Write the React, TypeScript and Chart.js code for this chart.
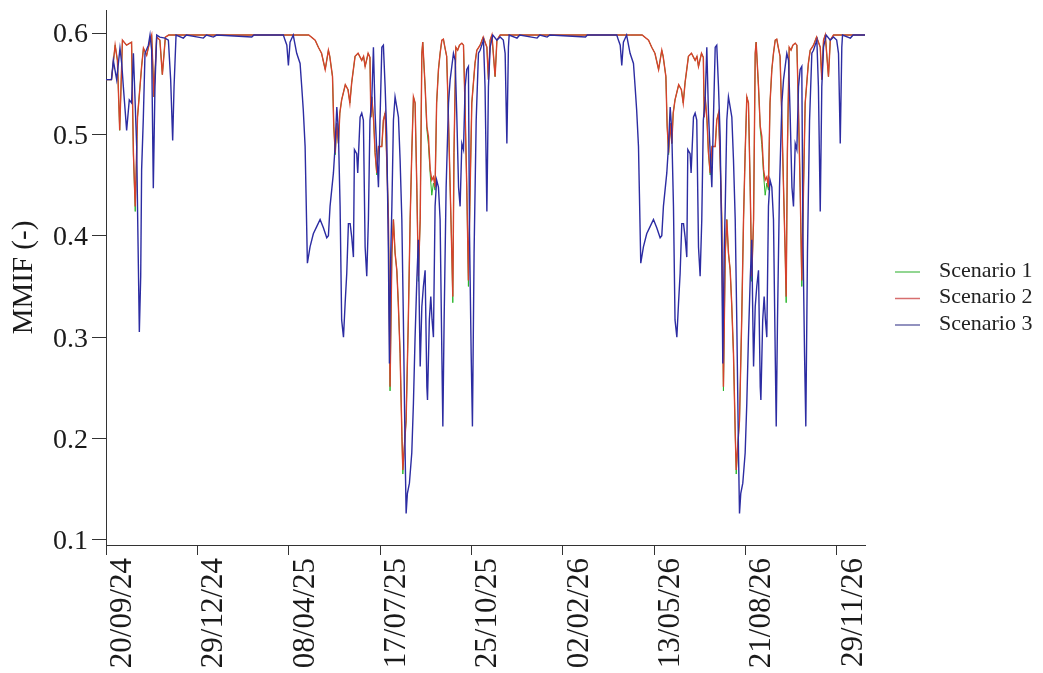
import React, { useEffect, useRef } from 'react';
import { Chart, registerables } from 'chart.js';

Chart.register(...registerables);

// ---- axis ticks -------------------------------------------------------
// x values are days since 20/09/24
const tickDays = [0, 100, 200, 300, 400, 500, 600, 700, 800];
const tickLabels = ['20/09/24', '29/12/24', '08/04/25', '17/07/25', '25/10/25', '02/02/26', '13/05/26', '21/08/26', '29/11/26'];
const yTicks = [0.1, 0.2, 0.3, 0.4, 0.5, 0.6];
const seriesNames = ['Scenario 1', 'Scenario 2', 'Scenario 3'];

// ---- Scenario 2 (red) -------------------------------------------------
const redDays2024 = [0, 6, 10, 12.5, 15, 18, 22.5, 28, 30, 32, 34.5, 39, 41, 44.5, 48, 50, 52.5, 55.5, 59, 61.7, 65, 68.6];
const redVals2024 = [0.554, 0.554, 0.588, 0.573, 0.504, 0.593, 0.588, 0.591, 0.482, 0.429, 0.517, 0.567, 0.585, 0.578, 0.592, 0.598, 0.537, 0.596, 0.593, 0.559, 0.596, 0.598];
const redDays2025 = [209, 222, 229, 232.5, 236, 240, 243.5, 245, 248, 249.4, 251, 252.6, 254.5, 256, 258, 262, 265, 267, 269, 272.7, 276, 280, 282, 283.7, 287, 289, 290, 291, 293, 294.6, 296.5, 298.4, 302, 303.7, 305.6, 307.4, 309.2, 311, 313, 314.7, 316.5, 318.4, 320, 322, 324, 325, 326.4, 328.6, 331, 333, 334.8, 336.6, 338.4, 340.3, 342, 344, 345.8, 346.8, 349.4, 351.3, 353, 355, 356.7, 358.5, 360.3, 362, 364, 365.8, 367.7, 369.4, 371, 373, 375, 376.8, 378.6, 379.7, 381, 383, 385, 387, 389.6, 391.4, 393, 395, 396.8, 398.7, 400.5, 404, 406, 409.6, 413, 417, 418.7, 420.6, 422.5, 426, 428, 431.5];
const redVals2025 = [0.598, 0.598, 0.593, 0.586, 0.580, 0.564, 0.583, 0.577, 0.557, 0.508, 0.482, 0.511, 0.491, 0.521, 0.534, 0.549, 0.544, 0.531, 0.551, 0.577, 0.580, 0.573, 0.577, 0.567, 0.580, 0.576, 0.517, 0.537, 0.514, 0.482, 0.462, 0.488, 0.488, 0.514, 0.521, 0.475, 0.416, 0.251, 0.383, 0.416, 0.383, 0.366, 0.334, 0.284, 0.202, 0.169, 0.189, 0.218, 0.317, 0.416, 0.482, 0.537, 0.531, 0.448, 0.360, 0.416, 0.580, 0.591, 0.547, 0.508, 0.498, 0.465, 0.455, 0.458, 0.448, 0.531, 0.564, 0.580, 0.593, 0.594, 0.586, 0.577, 0.514, 0.448, 0.383, 0.340, 0.482, 0.586, 0.583, 0.588, 0.590, 0.588, 0.531, 0.448, 0.356, 0.448, 0.531, 0.570, 0.583, 0.588, 0.596, 0.586, 0.554, 0.593, 0.598, 0.557, 0.593, 0.598];
const redDays2026 = [574, 587, 594, 597.5, 601, 605, 608.5, 610, 613, 614.4, 616, 617.6, 619.5, 621, 623, 627, 630, 632, 634, 637.7, 641, 645, 647, 648.7, 652, 654, 655, 656, 658, 659.6, 661.5, 663.4, 667, 668.7, 670.6, 672.4, 674.2, 676, 678, 679.7, 681.5, 683.4, 685, 687, 689, 690, 691.4, 693.6, 696, 698, 699.8, 701.6, 703.4, 705.3, 707, 709, 710.8, 711.8, 714.4, 716.3, 718, 720, 721.7, 723.5, 725.3, 727, 729, 730.8, 732.7, 734.4, 736, 738, 740, 741.8, 743.6, 744.7, 746, 748, 750, 752, 754.6, 756.4, 758, 760, 761.8, 763.7, 765.5, 769, 771, 774.6, 778, 782, 783.7, 785.6, 787.5, 791, 793, 796.5, 831];
const redVals2026 = [0.598, 0.598, 0.593, 0.586, 0.580, 0.564, 0.583, 0.577, 0.557, 0.508, 0.482, 0.511, 0.491, 0.521, 0.534, 0.549, 0.544, 0.531, 0.551, 0.577, 0.580, 0.573, 0.577, 0.567, 0.580, 0.576, 0.517, 0.537, 0.514, 0.482, 0.462, 0.488, 0.488, 0.514, 0.521, 0.475, 0.416, 0.251, 0.383, 0.416, 0.383, 0.366, 0.334, 0.284, 0.202, 0.169, 0.189, 0.218, 0.317, 0.416, 0.482, 0.537, 0.531, 0.448, 0.360, 0.416, 0.580, 0.591, 0.547, 0.508, 0.498, 0.465, 0.455, 0.458, 0.448, 0.531, 0.564, 0.580, 0.593, 0.594, 0.586, 0.577, 0.514, 0.448, 0.383, 0.340, 0.482, 0.586, 0.583, 0.588, 0.590, 0.588, 0.531, 0.448, 0.356, 0.448, 0.531, 0.570, 0.583, 0.588, 0.596, 0.586, 0.554, 0.593, 0.598, 0.557, 0.593, 0.598, 0.598];

// ---- Scenario 1 (green, almost identical to Scenario 2) ---------------
const greenVals2024 = [0.554, 0.554, 0.588, 0.573, 0.504, 0.593, 0.588, 0.591, 0.480, 0.424, 0.517, 0.567, 0.585, 0.578, 0.592, 0.598, 0.537, 0.596, 0.593, 0.559, 0.596, 0.598];
const greenVals2025 = [0.598, 0.598, 0.593, 0.586, 0.580, 0.564, 0.583, 0.577, 0.557, 0.508, 0.480, 0.511, 0.491, 0.521, 0.534, 0.549, 0.544, 0.531, 0.551, 0.577, 0.580, 0.573, 0.577, 0.567, 0.580, 0.576, 0.517, 0.537, 0.514, 0.482, 0.460, 0.488, 0.488, 0.514, 0.521, 0.475, 0.416, 0.247, 0.383, 0.416, 0.383, 0.366, 0.334, 0.284, 0.202, 0.165, 0.189, 0.218, 0.317, 0.416, 0.482, 0.537, 0.531, 0.448, 0.355, 0.416, 0.580, 0.591, 0.547, 0.505, 0.490, 0.460, 0.440, 0.452, 0.445, 0.531, 0.564, 0.580, 0.593, 0.594, 0.586, 0.577, 0.514, 0.448, 0.383, 0.334, 0.482, 0.586, 0.583, 0.588, 0.590, 0.588, 0.531, 0.448, 0.350, 0.448, 0.531, 0.570, 0.583, 0.588, 0.596, 0.586, 0.554, 0.593, 0.598, 0.557, 0.593, 0.598];
const greenVals2026 = [0.598, 0.598, 0.593, 0.586, 0.580, 0.564, 0.583, 0.577, 0.557, 0.508, 0.480, 0.511, 0.491, 0.521, 0.534, 0.549, 0.544, 0.531, 0.551, 0.577, 0.580, 0.573, 0.577, 0.567, 0.580, 0.576, 0.517, 0.537, 0.514, 0.482, 0.460, 0.488, 0.488, 0.514, 0.521, 0.475, 0.416, 0.247, 0.383, 0.416, 0.383, 0.366, 0.334, 0.284, 0.202, 0.165, 0.189, 0.218, 0.317, 0.416, 0.482, 0.537, 0.531, 0.448, 0.355, 0.416, 0.580, 0.591, 0.547, 0.505, 0.490, 0.460, 0.440, 0.452, 0.445, 0.531, 0.564, 0.580, 0.593, 0.594, 0.586, 0.577, 0.514, 0.448, 0.383, 0.334, 0.482, 0.586, 0.583, 0.588, 0.590, 0.588, 0.531, 0.448, 0.350, 0.448, 0.531, 0.570, 0.583, 0.588, 0.596, 0.586, 0.554, 0.593, 0.598, 0.557, 0.593, 0.598, 0.598];

// ---- Scenario 3 (blue) ------------------------------------------------
const blueDays2024 = [0, 6, 8, 11.7, 15.3, 17.2, 19, 22.6, 25.5, 28, 30, 33.6, 34.7, 36.5, 38, 39, 40.9, 42.7, 46.4, 48.2, 50, 51.8, 53.6, 55.5, 59, 64.6, 68.3, 70.8, 73, 74.5, 76.7, 84.7, 88, 106.6, 110, 117.5, 121, 159.6, 162, 194.2];
const blueVals2024 = [0.554, 0.554, 0.573, 0.554, 0.585, 0.570, 0.547, 0.504, 0.534, 0.531, 0.580, 0.488, 0.416, 0.305, 0.360, 0.465, 0.517, 0.580, 0.588, 0.598, 0.583, 0.447, 0.547, 0.598, 0.596, 0.595, 0.593, 0.554, 0.494, 0.547, 0.598, 0.595, 0.598, 0.595, 0.598, 0.596, 0.598, 0.596, 0.598, 0.598];
const blueDays2025 = [196, 198, 199.7, 201.5, 205, 208.8, 212.5, 214.3, 216, 218, 219, 220.5, 223.4, 227, 230.7, 234.4, 238, 241.7, 243.5, 245.3, 249, 250.8, 252.7, 254.4, 256.3, 258, 260, 261.8, 263.6, 265.4, 267.3, 269, 270.9, 272, 274.5, 275.6, 278.2, 280, 281.8, 283.7, 285.5, 287.3, 289, 291, 292.8, 294.6, 296.5, 298.3, 300, 302, 303.7, 305.6, 307.4, 309.2, 310.3, 311.8, 313, 314.7, 316.5, 318.4, 320.2, 322, 323.9, 325.6, 327.5, 328.6, 330, 332.2, 334.8, 336.6, 338.4, 340.3, 342, 343.2, 344, 345.8, 347.5, 349.4, 351.3, 352, 354, 355.6, 357, 358.5, 360.3, 362, 364, 365.8, 367.7, 368.8, 370.2, 372.4, 375, 376.8, 378.6, 380.4, 382.3, 384, 386, 387.7, 389.6, 391.4, 393.2, 395, 396.8, 398, 399.8, 401.2, 403, 405.3, 407.8, 409.6, 413.3, 415, 417, 418.7, 420.6, 423.5, 428, 431.5, 435, 437, 438.9, 440.6, 441.4, 450, 453, 472, 475, 483, 486, 525, 527, 559.2];
const blueVals2025 = [0.593, 0.588, 0.568, 0.591, 0.598, 0.580, 0.570, 0.547, 0.524, 0.488, 0.442, 0.373, 0.389, 0.402, 0.409, 0.416, 0.408, 0.398, 0.400, 0.429, 0.462, 0.488, 0.527, 0.504, 0.429, 0.317, 0.300, 0.333, 0.363, 0.412, 0.412, 0.399, 0.379, 0.485, 0.481, 0.462, 0.517, 0.521, 0.514, 0.389, 0.360, 0.416, 0.514, 0.534, 0.586, 0.521, 0.482, 0.448, 0.514, 0.586, 0.588, 0.547, 0.498, 0.383, 0.274, 0.383, 0.429, 0.514, 0.537, 0.527, 0.517, 0.475, 0.416, 0.317, 0.186, 0.126, 0.146, 0.156, 0.186, 0.235, 0.300, 0.356, 0.396, 0.317, 0.271, 0.330, 0.350, 0.366, 0.251, 0.238, 0.317, 0.340, 0.317, 0.300, 0.429, 0.455, 0.448, 0.416, 0.284, 0.212, 0.317, 0.448, 0.531, 0.554, 0.567, 0.580, 0.573, 0.521, 0.448, 0.429, 0.491, 0.485, 0.547, 0.564, 0.567, 0.402, 0.284, 0.212, 0.383, 0.514, 0.580, 0.583, 0.593, 0.547, 0.424, 0.547, 0.586, 0.598, 0.593, 0.596, 0.593, 0.580, 0.491, 0.586, 0.598, 0.595, 0.598, 0.595, 0.598, 0.596, 0.598, 0.596, 0.598, 0.598];
const blueDays2026 = [561, 563, 564.7, 566.5, 570, 573.8, 577.5, 579.3, 581, 583, 584, 585.5, 588.4, 592, 595.7, 599.4, 603, 606.7, 608.5, 610.3, 614, 615.8, 617.7, 619.4, 621.3, 623, 625, 626.8, 628.6, 630.4, 632.3, 634, 635.9, 637, 639.5, 640.6, 643.2, 645, 646.8, 648.7, 650.5, 652.3, 654, 656, 657.8, 659.6, 661.5, 663.3, 665, 667, 668.7, 670.6, 672.4, 674.2, 675.3, 676.8, 678, 679.7, 681.5, 683.4, 685.2, 687, 688.9, 690.6, 692.5, 693.6, 695, 697.2, 699.8, 701.6, 703.4, 705.3, 707, 708.2, 709, 710.8, 712.5, 714.4, 716.3, 717, 719, 720.6, 722, 723.5, 725.3, 727, 729, 730.8, 732.7, 733.8, 735.2, 737.4, 740, 741.8, 743.6, 745.4, 747.3, 749, 751, 752.7, 754.6, 756.4, 758.2, 760, 761.8, 763, 764.8, 766.2, 768, 770.3, 772.8, 774.6, 778.3, 780, 782, 783.7, 785.6, 788.5, 793, 796.5, 800, 802, 803.9, 805.6, 806.4, 815, 818, 831];
const blueVals2026 = [0.593, 0.588, 0.568, 0.591, 0.598, 0.580, 0.570, 0.547, 0.524, 0.488, 0.442, 0.373, 0.389, 0.402, 0.409, 0.416, 0.408, 0.398, 0.400, 0.429, 0.462, 0.488, 0.527, 0.504, 0.429, 0.317, 0.300, 0.333, 0.363, 0.412, 0.412, 0.399, 0.379, 0.485, 0.481, 0.462, 0.517, 0.521, 0.514, 0.389, 0.360, 0.416, 0.514, 0.534, 0.586, 0.521, 0.482, 0.448, 0.514, 0.586, 0.588, 0.547, 0.498, 0.383, 0.274, 0.383, 0.429, 0.514, 0.537, 0.527, 0.517, 0.475, 0.416, 0.317, 0.186, 0.126, 0.146, 0.156, 0.186, 0.235, 0.300, 0.356, 0.396, 0.317, 0.271, 0.330, 0.350, 0.366, 0.251, 0.238, 0.317, 0.340, 0.317, 0.300, 0.429, 0.455, 0.448, 0.416, 0.284, 0.212, 0.317, 0.448, 0.531, 0.554, 0.567, 0.580, 0.573, 0.521, 0.448, 0.429, 0.491, 0.485, 0.547, 0.564, 0.567, 0.402, 0.284, 0.212, 0.383, 0.514, 0.580, 0.583, 0.593, 0.547, 0.424, 0.547, 0.586, 0.598, 0.593, 0.596, 0.593, 0.580, 0.491, 0.586, 0.598, 0.595, 0.598, 0.598];

const redDays = [...redDays2024, ...redDays2025, ...redDays2026];
const redVals = [...redVals2024, ...redVals2025, ...redVals2026];
const greenVals = [...greenVals2024, ...greenVals2025, ...greenVals2026];
const blueDays = [...blueDays2024, ...blueDays2025, ...blueDays2026];
const blueVals = [...blueVals2024, ...blueVals2025, ...blueVals2026];

const zip = (xs: number[], ys: number[]) => xs.map((x, i) => ({ x, y: ys[i] }));

const COLORS = ['rgb(40,180,40)', 'rgb(214,66,44)', 'rgb(44,44,162)'];
const LEGEND_COLORS = ['rgb(110,200,110)', 'rgb(215,110,110)', 'rgb(110,110,170)'];
const FONT = '"Liberation Serif", "Times New Roman", serif';

const sideLegend = {
  id: 'sideLegend',
  afterDraw(chart: any) {
    const { ctx, chartArea } = chart;
    ctx.save();
    ctx.font = `22px ${FONT}`;
    ctx.textBaseline = 'middle';
    ctx.textAlign = 'left';
    const startY = 272;
    const step = 26.5;
    seriesNames.forEach((name, i) => {
      const y = startY + i * step;
      ctx.strokeStyle = LEGEND_COLORS[i];
      ctx.lineWidth = 1.5;
      ctx.beginPath();
      ctx.moveTo(chartArea.right + 30, y);
      ctx.lineTo(chartArea.right + 55, y);
      ctx.stroke();
      ctx.fillStyle = '#222';
      ctx.fillText(name, chartArea.right + 74, y - 1);
    });
    ctx.restore();
  },
};

export default function App() {
  const ref = useRef<HTMLCanvasElement | null>(null);
  useEffect(() => {
    if (!ref.current) return;
    const chart = new Chart(ref.current, {
      type: 'line',
      data: {
        datasets: [
          { label: seriesNames[0], data: zip(redDays, greenVals), borderColor: COLORS[0], borderWidth: 1.0, pointRadius: 0, tension: 0, order: 2 },
          { label: seriesNames[1], data: zip(redDays, redVals), borderColor: COLORS[1], borderWidth: 1.4, pointRadius: 0, tension: 0, order: 1 },
          { label: seriesNames[2], data: zip(blueDays, blueVals), borderColor: COLORS[2], borderWidth: 1.4, pointRadius: 0, tension: 0, order: 0 },
        ],
      },
      options: {
        responsive: false,
        maintainAspectRatio: false,
        animation: false,
        devicePixelRatio: 1,
        layout: { padding: { top: 10, right: 178, left: 0, bottom: 0 } },
        plugins: { legend: { display: false }, tooltip: { enabled: false } },
        scales: {
          x: {
            type: 'linear',
            min: 0,
            max: 831,
            afterBuildTicks: (s: any) => { s.ticks = tickDays.map((v) => ({ value: v })); },
            afterFit: (s: any) => { s.height = 128; s.paddingLeft = 0; s.paddingRight = 0; },
            grid: { drawOnChartArea: false, drawTicks: true, tickLength: 10, color: '#333' },
            border: { display: true, color: '#333', width: 1 },
            ticks: {
              autoSkip: false,
              minRotation: 90,
              maxRotation: 90,
              padding: 3,
              labelOffset: 17,
              color: '#1a1a1a',
              font: { family: FONT, size: 31 },
              callback: (v: any) => tickLabels[tickDays.indexOf(Number(v))] ?? '',
            },
          },
          y: {
            min: 0.095,
            max: 0.6227,
            afterBuildTicks: (s: any) => { s.ticks = yTicks.map((v) => ({ value: v })); },
            afterFit: (s: any) => { s.width = 106; s.paddingTop = 0; s.paddingBottom = 0; },
            grid: { drawOnChartArea: false, drawTicks: true, tickLength: 14, color: '#333' },
            border: { display: true, color: '#333', width: 1 },
            ticks: {
              padding: 4,
              labelOffset: 2,
              color: '#1a1a1a',
              font: { family: FONT, size: 28 },
              callback: (v: any) => Number(v).toFixed(1),
            },
            title: {
              display: true,
              text: 'MMIF (-)',
              color: '#1a1a1a',
              font: { family: FONT, size: 29 },
              padding: { top: 7, bottom: 0 },
            },
          },
        },
      },
      plugins: [sideLegend],
    } as any);
    return () => chart.destroy();
  }, []);

  return (
    <div style={{ position: 'absolute', left: 0, top: 0, width: 1043, height: 673, background: '#fff' }}>
      <canvas ref={ref} width={1043} height={673} style={{ width: 1043, height: 673 }} />
    </div>
  );
}
